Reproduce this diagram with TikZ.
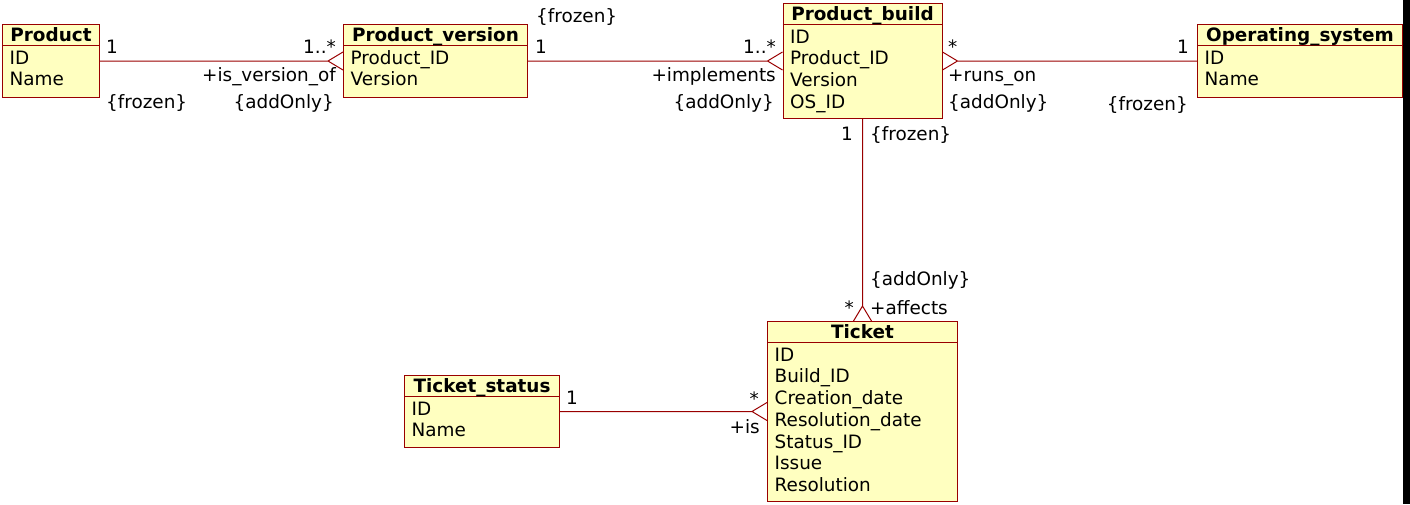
\documentclass[tikz,border=0pt]{standalone}
\usepackage{fontspec}
\setmainfont{DejaVu Sans}
\usetikzlibrary{positioning,calc}
\definecolor{umlred}{RGB}{153,0,0}
\definecolor{umlyellow}{RGB}{255,255,192}
\tikzset{
  classbox/.style={draw=umlred, fill=umlyellow, line width=1pt, anchor=north west, inner sep=0pt},
  classname/.style={font=\fontsize{18.4}{21.7}\selectfont\bfseries, anchor=base, inner sep=0pt},
  classattr/.style={font=\fontsize{18.4}{21.7}\selectfont, anchor=north west, align=left, inner xsep=7.5pt, inner ysep=3.4pt},
  classrule/.style={draw=umlred, line width=1pt},
  assoc/.style={umlred, line width=1pt},
  lbl/.style={font=\fontsize{18.4}{21.7}\selectfont, inner sep=0pt}
}

\begin{document}
\begin{tikzpicture}[x=1pt, y=-1pt]
    \useasboundingbox (0,0) rectangle (1410,504);
    \fill[black] (1403,0) rectangle (1410,504);

    % classes
    \node[classbox, minimum width=97, minimum height=73] (product) at (2,24) {};
    \draw[classrule] ([yshift=-21.5]product.north west) -- ([yshift=-21.5]product.north east);
    \node[classname] (product-name) at ([yshift=-17.5]product.north) {Product};
    \node[classattr] (product-attr) at ([yshift=-21.5]product.north west) {\strut ID\\Name};

    \node[classbox, minimum width=184, minimum height=73] (pversion) at (343,24) {};
    \draw[classrule] ([yshift=-21.5]pversion.north west) -- ([yshift=-21.5]pversion.north east);
    \node[classname] (pversion-name) at ([yshift=-17.5]pversion.north) {Product\_version};
    \node[classattr] (pversion-attr) at ([yshift=-21.5]pversion.north west) {\strut Product\_ID\\Version};

    \node[classbox, minimum width=159, minimum height=115] (pbuild) at (782.5,3) {};
    \draw[classrule] ([yshift=-21.5]pbuild.north west) -- ([yshift=-21.5]pbuild.north east);
    \node[classname] (pbuild-name) at ([yshift=-17.5]pbuild.north) {Product\_build};
    \node[classattr] (pbuild-attr) at ([yshift=-21.5]pbuild.north west) {\strut ID\\Product\_ID\\Version\\OS\_ID};

    \node[classbox, minimum width=205, minimum height=73] (os) at (1197,24) {};
    \draw[classrule] ([yshift=-21.5]os.north west) -- ([yshift=-21.5]os.north east);
    \node[classname] (os-name) at ([yshift=-17.5]os.north) {Operating\_system};
    \node[classattr] (os-attr) at ([yshift=-21.5]os.north west) {\strut ID\\Name};

    \node[classbox, minimum width=190, minimum height=180] (ticket) at (767,321) {};
    \draw[classrule] ([yshift=-21.5]ticket.north west) -- ([yshift=-21.5]ticket.north east);
    \node[classname] (ticket-name) at ([yshift=-17.5]ticket.north) {Ticket};
    \node[classattr] (ticket-attr) at ([yshift=-21.5]ticket.north west) {\strut ID\\Build\_ID\\Creation\_date\\Resolution\_date\\Status\_ID\\Issue\\Resolution};

    \node[classbox, minimum width=155, minimum height=72] (tstatus) at (404,375) {};
    \draw[classrule] ([yshift=-21.5]tstatus.north west) -- ([yshift=-21.5]tstatus.north east);
    \node[classname] (tstatus-name) at ([yshift=-17.5]tstatus.north) {Ticket\_status};
    \node[classattr] (tstatus-attr) at ([yshift=-21.5]tstatus.north west) {\strut ID\\Name};

    % associations with crow's feet
    \draw[assoc] (product.east) -- ([xshift=-15]pversion.west) -- ([yshift=9]pversion.west)
        ([xshift=-15]pversion.west) -- ([yshift=-9]pversion.west);
    \draw[assoc] (pversion.east) -- ([xshift=-15]pbuild.west) -- ([yshift=9]pbuild.west)
        ([xshift=-15]pbuild.west) -- ([yshift=-9]pbuild.west);
    \draw[assoc] (os.west) -- ([xshift=15]pbuild.east) -- ([yshift=9]pbuild.east)
        ([xshift=15]pbuild.east) -- ([yshift=-9]pbuild.east);
    \draw[assoc] (pbuild.south) -- ([yshift=15]ticket.north) -- ([xshift=-9]ticket.north)
        ([yshift=15]ticket.north) -- ([xshift=9]ticket.north);
    \draw[assoc] (tstatus.east) -- ([xshift=-15]ticket.west) -- ([yshift=9]ticket.west)
        ([xshift=-15]ticket.west) -- ([yshift=-9]ticket.west);

    % multiplicities, roles and constraints
    \node[lbl, anchor=base west] (m-prod) at (106,53) {1};
    \node[lbl, anchor=base west] (c-prod) at (106,108) {\{frozen\}};
    \node[lbl, anchor=base east] (m-pver-l) at (336,53) {1..*};
    \node[lbl, anchor=base east] (r-pver-l) at (336,81) {+is\_version\_of};
    \node[lbl, anchor=base east] (c-pver-l) at (334,108) {\{addOnly\}};

    \node[lbl, anchor=base west] (c-pver-r) at (536,22) {\{frozen\}};
    \node[lbl, anchor=base west] (m-pver-r) at (535,53) {1};
    \node[lbl, anchor=base east] (m-pbuild-l) at (776,53) {1..*};
    \node[lbl, anchor=base east] (r-pbuild-l) at (776,81) {+implements};
    \node[lbl, anchor=base east] (c-pbuild-l) at (774,108) {\{addOnly\}};

    \node[lbl, anchor=base west] (m-pbuild-r) at (948,53) {*};
    \node[lbl, anchor=base west] (r-pbuild-r) at (948,81) {+runs\_on};
    \node[lbl, anchor=base west] (c-pbuild-r) at (948,108) {\{addOnly\}};
    \node[lbl, anchor=base east] (m-os) at (1189,53) {1};
    \node[lbl, anchor=base east] (c-os) at (1188,110) {\{frozen\}};

    \node[lbl, anchor=base east] (m-pbuild-b) at (853,140) {1};
    \node[lbl, anchor=base west] (c-pbuild-b) at (870,140) {\{frozen\}};
    \node[lbl, anchor=base west] (c-ticket-t) at (870,285) {\{addOnly\}};
    \node[lbl, anchor=base east] (m-ticket-t) at (854,314) {*};
    \node[lbl, anchor=base west] (r-ticket-t) at (870,314) {+affects};

    \node[lbl, anchor=base west] (m-tstatus) at (566,404) {1};
    \node[lbl, anchor=base east] (m-ticket-l) at (759,405) {*};
    \node[lbl, anchor=base east] (r-ticket-l) at (760,433.5) {+is};
\end{tikzpicture}
\end{document}
